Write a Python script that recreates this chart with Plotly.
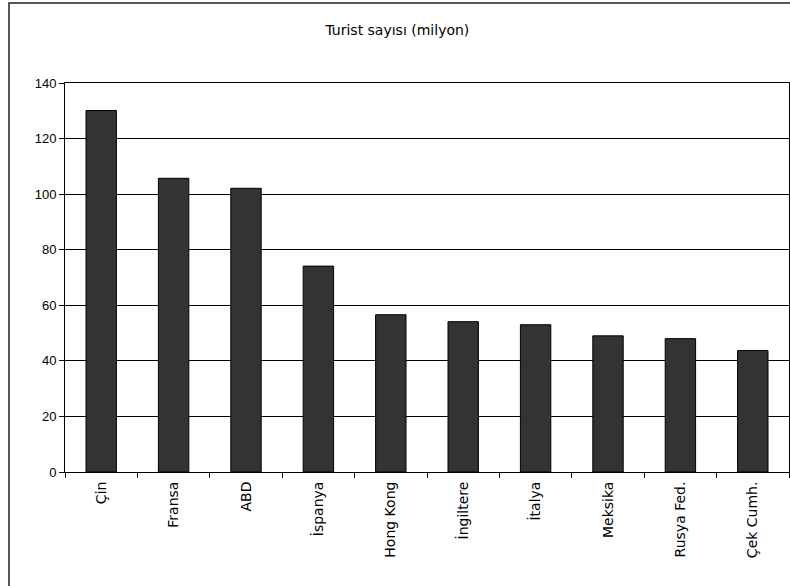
import plotly.graph_objects as go

countries = ["Çin", "Fransa", "ABD", "İspanya", "Hong Kong", "İngiltere",
             "İtalya", "Meksika", "Rusya Fed.", "Çek Cumh."]
tourists = [130.1, 105.7, 102.1, 74.1, 56.6, 54.1, 53.0, 49.0, 48.0, 43.7]
y_ticks = [0, 20, 40, 60, 80, 100, 120, 140]

W, H = 790, 586
L, R, T, B = 65, 1, 83, 114

fig = go.Figure(go.Bar(
    x=countries, y=tourists,
    marker=dict(color="#333333", line=dict(color="#000000", width=1)),
    hoverinfo="x+y",
))

pw = W - L - R
ph = H - T - B
fig.update_layout(
    width=W, height=H,
    margin=dict(l=L, r=R, t=T, b=B),
    paper_bgcolor="white", plot_bgcolor="white",
    bargap=0.58,
    showlegend=False,
    title=dict(text="Turist sayısı (milyon)", x=0.503, xref="container",
               y=1 - 30 / H, yref="container", yanchor="middle", xanchor="center",
               font=dict(family="DejaVu Sans", size=14, color="black")),
    xaxis=dict(
        type="category", tickangle=-90, tickson="boundaries",
        ticks="outside", ticklen=5, tickcolor="black", tickwidth=1,
        showline=True, linecolor="black", linewidth=1, mirror=True,
        showgrid=False, ticklabelstandoff=3,
        tickfont=dict(family="DejaVu Sans", size=14, color="black"),
    ),
    yaxis=dict(
        range=[0, 140], tickvals=y_ticks,
        ticks="outside", ticklen=5, tickcolor="black", tickwidth=1,
        showline=True, linecolor="black", linewidth=1, mirror=True,
        showgrid=True, gridcolor="black", gridwidth=1,
        zeroline=False,
        tickfont=dict(family="Liberation Sans", size=13, color="black"),
    ),
    shapes=[dict(
        type="rect", xref="paper", yref="paper",
        x0=(9 - L) / pw, x1=(W + 10 - L) / pw,
        y0=-(H + 10 - T - ph) / ph, y1=1 + (T - 3) / ph,
        line=dict(color="#222222", width=1.5), fillcolor="rgba(0,0,0,0)",
        layer="below",
    )],
)

fig.write_html("out.html")
